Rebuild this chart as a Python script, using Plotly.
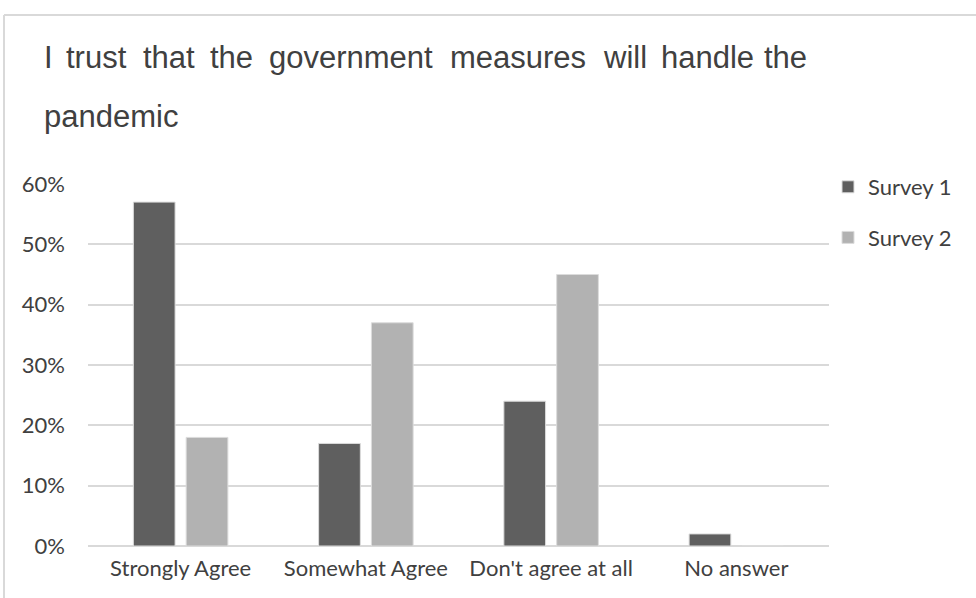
import plotly.graph_objects as go

# Survey responses (share of respondents)
categories = ["Strongly Agree", "Somewhat Agree", "Don't agree at all", "No answer"]
survey_1 = [0.57, 0.17, 0.24, 0.02]
survey_2 = [0.18, 0.37, 0.45, 0.0]
series_names = ["Survey 1", "Survey 2"]
y_ticks = [0, 0.1, 0.2, 0.3, 0.4, 0.5, 0.6]
y_tick_labels = ["0%", "10%", "20%", "30%", "40%", "50%", "60%"]
title_lines = [
    "I trust that the government measures will handle the",
    "pandemic",
]

W, H = 976, 598
M = dict(l=88, r=147, t=184, b=52)
PW = W - M["l"] - M["r"]
PH = H - M["t"] - M["b"]


def px_x(x):
    return (x - M["l"]) / PW


def px_y(y):
    return 1 - (y - M["t"]) / PH


DARK = "#5f5f5f"
LIGHT = "#b2b2b2"
GRID = "#d9d9d9"
TEXT = "#404040"
LABEL_FONT = dict(family="Lato", size=22, color=TEXT)

fig = go.Figure()
for name, vals, col in zip(series_names, [survey_1, survey_2], [DARK, LIGHT]):
    fig.add_trace(go.Bar(
        x=categories, y=vals, name=name, legendgroup=name,
        marker=dict(color=col, line=dict(color="#dcdcdc", width=1)),
    ))

# Justified two-line heading: words of the first line spread across its width
line1_word_x = [42, 64, 141, 208, 267, 448, 601, 659, 762]
annotations = []
for word, x in zip(title_lines[0].split(" "), line1_word_x):
    annotations.append(dict(
        text=word, x=px_x(x), y=px_y(58), xref="paper", yref="paper",
        xanchor="left", yanchor="middle", showarrow=False,
        font=dict(family="Liberation Sans", size=31, color=TEXT),
    ))
annotations.append(dict(
    text=title_lines[1], x=px_x(42), y=px_y(116), xref="paper", yref="paper",
    xanchor="left", yanchor="middle", showarrow=False,
    font=dict(family="Liberation Sans", size=31, color=TEXT),
))

# Chart frame (top and left edges)
shapes = [
    dict(type="line", xref="paper", yref="paper", x0=px_x(4), x1=px_x(990),
         y0=px_y(15), y1=px_y(15), line=dict(color=GRID, width=2)),
    dict(type="line", xref="paper", yref="paper", x0=px_x(4), x1=px_x(4),
         y0=px_y(15), y1=px_y(610), line=dict(color=GRID, width=2)),
]

fig.update_layout(
    width=W, height=H, margin=M,
    paper_bgcolor="white", plot_bgcolor="white",
    barmode="group", bargap=0.43, bargroupgap=0.21,
    annotations=annotations, shapes=shapes,
    showlegend=True,
    legend=dict(
        x=px_x(828), y=px_y(166), xanchor="left", yanchor="top",
        font=LABEL_FONT, traceorder="grouped", tracegroupgap=19,
        bgcolor="rgba(0,0,0,0)",
    ),
    xaxis=dict(
        tickfont=LABEL_FONT, showgrid=False, showline=False, zeroline=False,
        ticks="", ticklabelstandoff=7, fixedrange=True,
    ),
    yaxis=dict(
        range=[0, 0.6], tickvals=y_ticks, ticktext=y_tick_labels,
        tickfont=LABEL_FONT, showgrid=True, gridcolor=GRID, gridwidth=1.5,
        zeroline=True, zerolinecolor=GRID, zerolinewidth=1.5,
        showline=False, ticks="", ticklabelstandoff=22,
    ),
)

fig.write_html("out.html")
